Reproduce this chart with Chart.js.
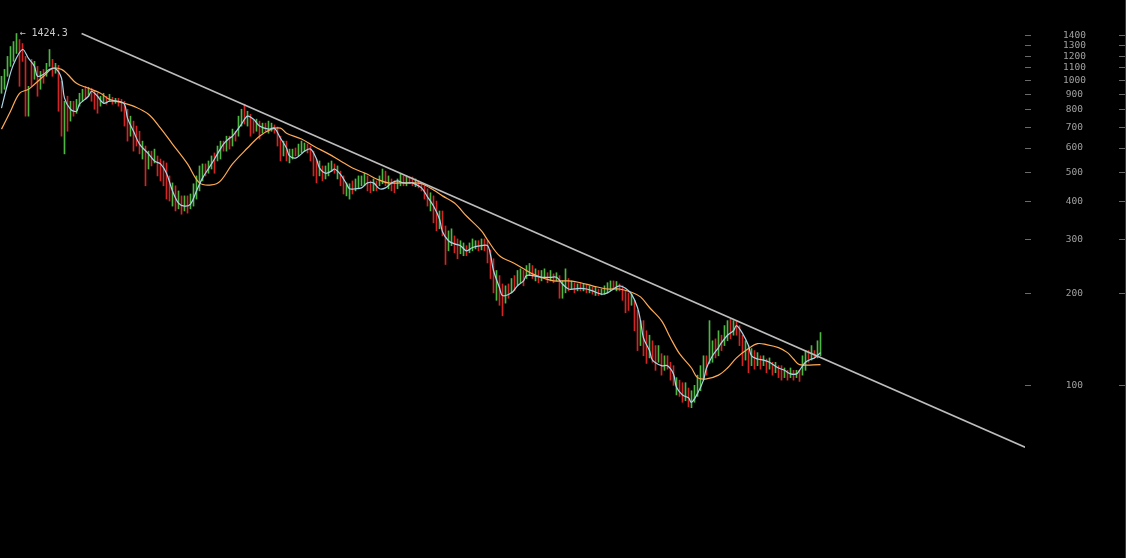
<!DOCTYPE html>
<html>
<head>
<meta charset="utf-8">
<script src="https://cdn.jsdelivr.net/npm/chart.js@4"></script>
<style>
  html, body { margin: 0; padding: 0; background: #000; }
  canvas { display: block; }
</style>
</head>
<body>
<canvas id="chart" width="1126" height="558"></canvas>
<script>
/* price bars: high / low per bar, g = up, r = down */

const highs = [
  1031,1086,1198,1291,1340,1424.3,1361,1320,1198,956,
  1172,1154,1111,1070,1086,1137,1262,1172,1137,1120,
  993,854,887,854,854,866,907,935,956,949,
  942,921,907,887,907,887,900,880,873,873,
  866,854,804,763,735,708,681,632,609,586,
  586,595,565,552,544,536,486,461,451,434,
  418,418,418,424,458,486,524,532,532,544,
  565,578,609,632,632,656,656,692,681,763,
  804,835,792,774,746,746,735,724,724,735,
  724,714,703,656,632,632,595,595,600,618,
  632,623,618,609,586,552,544,524,524,536,
  544,532,524,504,486,461,458,468,475,486,
  486,496,486,468,475,468,486,512,504,486,
  475,468,475,496,486,486,482,482,475,468,
  461,451,441,428,418,402,373,373,333,321,
  326,309,302,298,293,287,293,302,298,298,
  302,302,298,278,260,238,229,215,212,215,
  224,229,238,241,238,247,251,247,241,238,
  238,241,234,238,232,234,229,220,241,224,
  220,217,215,217,215,214,212,210,210,207,
  207,212,217,220,220,219,215,212,204,201,
  199,190,176,163,163,151,146,140,135,135,
  127,125,125,119,116,106,104,102,102,98,
  96,100,108,116,125,125,163,140,142,151,
  146,157,163,165,163,163,157,146,140,135,
  132,130,128,125,125,122,123,119,119,116,
  116,114,112,114,112,112,112,125,130,130,
  135,130,140,149
];

const lows = [
  907,935,1031,1111,1154,1225,956,1154,763,763,
  956,1008,887,935,978,1031,1111,1031,1055,792,
  656,574,681,735,763,780,823,854,866,887,
  854,804,780,823,841,835,854,835,841,823,
  792,708,632,656,586,609,574,552,451,512,
  524,536,486,468,451,408,402,387,373,379,
  364,373,367,379,387,408,434,468,486,496,
  512,496,544,552,586,586,595,609,632,656,
  708,719,708,656,671,681,642,671,681,671,
  681,671,609,544,565,544,536,552,565,565,
  578,586,578,544,486,461,486,468,475,486,
  504,496,475,451,424,418,408,424,434,441,
  451,451,434,428,434,434,451,458,451,441,
  434,428,441,451,451,451,458,451,448,444,
  434,408,387,373,341,321,326,309,249,276,
  287,272,260,270,266,266,272,276,280,276,
  278,276,252,224,201,190,183,169,186,193,
  201,204,212,217,212,224,229,224,220,217,
  220,224,217,220,217,220,193,193,201,204,
  207,201,204,204,204,201,201,199,197,197,
  198,199,201,204,207,204,204,190,173,176,
  183,151,130,135,125,118,123,119,112,119,
  108,112,113,104,100,93,92,88,89,85,
  84.5,88,92,96,104,108,118,119,123,125,
  130,135,140,142,146,146,135,116,121,110,
  116,113,116,113,116,110,113,108,110,106,
  104,106,104,106,104,106,103,108,112,119,
  121,123,123,125
];

const dirs = (
  'ggggggrrrg' + 'rgrgrggrgr' + 'rgrgrgggrg' + 'rrrggrgrgr' + 'rrrgrrrgrg' +
  'rgrrrrrgrg' + 'rgrgggggrg' + 'grggrgrgrg' + 'grgrrgrgrg' + 'grrrgrggrg' +
  'ggrrrrgrgg' + 'grgrrggrgg' + 'ggrrgrggrg' + 'rrggrgrrgr' + 'rrrgrrgrrg' +
  'grrggrgggr' + 'grrrrgrrgr' + 'grggrggrgr' + 'ggrgrgrggr' + 'grgrgrgrgr' +
  'ggggrgrrrr' + 'grrgrrgrrg' + 'rgrrrgrrgr' + 'gggggrggrg' + 'rggrgrrrgr' +
  'grgrgrgrgr' + 'rgrgrgrggr' + 'grgg'
).split('');

/* moving averages (bar index, value) */

const fastIdx = [0,2,4,7,9,11,12,14,16,18,20,21,23,25,26,29,30,32,34,36,39,41,42,44,46,49,51,53,55,57,
  59,61,63,65,67,70,72,74,76,77,80,82,84,86,89,91,93,95,96,98,100,101,103,105,106,108,110,111,113,115,
  116,118,120,122,124,126,128,130,132,134,136,137,140,142,144,146,147,149,151,153,155,157,160,162,163,164,
  166,167,170,172,174,175,177,180,183,185,187,189,191,193,195,197,200,202,204,206,208,210,212,213,214,216,
  217,220,222,224,225,227,229,230,232,234,235,237,239,240,242,244,245,247,249,250,252,254,256,259,261,263,
  265,266,268,270,271,273];
const fastVal = [811,971,1128,1262,1180,1111,1031,1047,1086,1094,1016,874,804,792,835,887,921,887,841,854,854,835,752,681,618,574,544,532,496,434,
  396,387,393,434,478,532,574,618,646,656,719,763,746,708,692,697,646,600,565,556,574,586,595,552,516,496,504,512,492,458,
  441,441,444,461,461,441,444,461,468,461,461,461,444,415,387,351,319,298,291,287,276,283,287,287,268,238,
  209,197,201,212,220,229,229,226,226,226,215,207,207,208,207,204,199,201,207,212,208,199,180,163,143,130,
  121,116,116,109,98.5,93,91,88,94,104,114,125,133,138,146,151,157,148,135,125,122,121,119,114,112,109,
  109,112,119,122,123,128];

const slowIdx = [0,3,6,9,11,14,17,20,22,25,29,33,36,41,44,49,53,57,62,66,70,73,77,82,86,90,93,95,100,104,
  109,113,117,122,125,129,133,137,140,144,147,151,155,160,162,166,171,174,177,181,184,189,193,197,202,206,210,213,216,220,
  223,226,230,232,235,239,242,245,249,252,255,259,262,264,266,273];
const slowVal = [692,792,907,935,971,1031,1094,1086,1047,978,942,907,866,841,823,774,697,618,532,461,454,468,532,600,656,692,697,671,642,609,
  574,544,516,492,475,461,461,461,458,437,418,396,359,321,300,266,251,241,232,224,220,220,217,212,207,207,202,195,180,163,
  143,127,114,106,105,108,114,123,132,137,136,133,128,122,117,117];

/* trend line and axis ticks */

const trendIdx = [26.7, 341.2];
const trendVal = [1424.3, 62.7];

const tickVals = [100, 200, 300, 400, 500, 600, 700, 800, 900, 1000, 1100, 1200, 1300, 1400];

const UP = '#4fb645';
const DOWN = '#d02626';
const MONO = '"DejaVu Sans Mono", monospace';

// tick marks on both sides of the axis + max label
const extras = {
  id: 'extras',
  afterDraw(chart) {
    const { ctx, chartArea, scales: { x, y } } = chart;
    ctx.save();
    ctx.strokeStyle = '#6a6a6a';
    ctx.lineWidth = 1;
    ctx.beginPath();
    y.ticks.forEach(function (t) {
      const py = Math.floor(y.getPixelForValue(t.value)) + 0.5;
      ctx.moveTo(chartArea.right, py);
      ctx.lineTo(chartArea.right + 6, py);
      ctx.moveTo(chart.width - 7, py);
      ctx.lineTo(chart.width - 1, py);
    });
    ctx.stroke();

    ctx.strokeStyle = '#3a3a3a';
    ctx.beginPath();
    ctx.moveTo(chart.width - 0.5, 0);
    ctx.lineTo(chart.width - 0.5, chart.height);
    ctx.stroke();

    const top = Math.max.apply(null, highs);
    const idx = highs.indexOf(top);
    ctx.fillStyle = '#c8c8c8';
    ctx.font = '10px ' + MONO;
    ctx.textAlign = 'left';
    ctx.textBaseline = 'middle';
    ctx.fillText('\u2190 ' + top.toFixed(1), x.getPixelForValue(idx) + 3, y.getPixelForValue(top));
    ctx.restore();
  }
};

const toPoints = (xs, ys) => xs.map((v, i) => ({ x: v, y: ys[i] }));

const ctx = document.getElementById('chart').getContext('2d');

const chart = new Chart(ctx, {
  type: 'bar',
  data: {
    datasets: [
      {
        type: 'line',
        label: 'Trend',
        data: toPoints(trendIdx, trendVal),
        borderColor: '#bdbdbd',
        borderWidth: 1.6,
        pointRadius: 0,
        order: 0
      },
      {
        type: 'line',
        label: 'Fast MA',
        data: toPoints(fastIdx, fastVal),
        borderColor: '#a9d6e8',
        borderWidth: 1.2,
        tension: 0.35,
        pointRadius: 0,
        order: 1
      },
      {
        type: 'line',
        label: 'Slow MA',
        data: toPoints(slowIdx, slowVal),
        borderColor: '#ffaa55',
        borderWidth: 1.2,
        tension: 0.35,
        pointRadius: 0,
        order: 2
      },
      {
        type: 'bar',
        label: 'Price',
        data: highs.map((h, i) => ({ x: i, y: [lows[i], h] })),
        backgroundColor: dirs.map(d => (d === 'g' ? UP : DOWN)),
        barThickness: 1,
        borderWidth: 0,
        order: 3
      }
    ]
  },
  options: {
    responsive: false,
    animation: false,
    layout: { padding: 0 },
    plugins: {
      legend: { display: false },
      tooltip: { enabled: false }
    },
    scales: {
      x: {
        type: 'linear',
        display: false,
        offset: false,
        min: -0.5,
        max: 1025 / 3 - 0.5
      },
      y: {
        type: 'logarithmic',
        position: 'right',
        min: 27.16,
        max: 1834,
        grid: {
          drawOnChartArea: false,
          drawTicks: true,
          tickLength: 38,
          color: 'rgba(0,0,0,0)'
        },
        border: { display: false },
        afterBuildTicks: function (scale) {
          scale.ticks = tickVals.map(v => ({ value: v }));
        },
        afterFit: function (scale) {
          scale.width = 101;
          scale.paddingTop = 0;
          scale.paddingBottom = 0;
        },
        ticks: {
          autoSkip: false,
          crossAlign: 'center',
          padding: 0,
          color: '#a0a0a0',
          font: { family: MONO, size: 9.5 },
          callback: v => String(v)
        }
      }
    }
  },
  plugins: [extras]
});
</script>
</body>
</html>
